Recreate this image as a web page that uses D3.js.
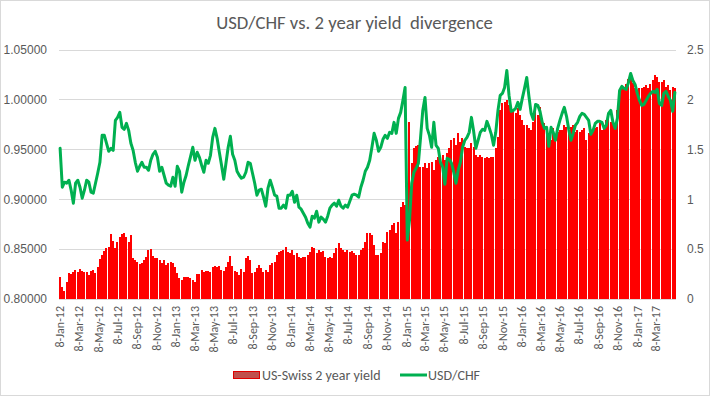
<!DOCTYPE html>
<html>
<head>
<meta charset="utf-8">
<script src="https://cdn.jsdelivr.net/npm/d3@7/dist/d3.min.js"></script>
<style>
  html, body { margin: 0; padding: 0; background: #fff; }
  svg { display: block; font-family: Carlito, Calibri, Lato, sans-serif; }
</style>
</head>
<body>
<div id="chart"></div>
<script>
// weekly observations, first week 8-Jan-12
var startDate = '2012-01-08';

var usdChf = [
  0.951, 0.912, 0.917, 0.916, 0.919, 0.909, 0.896, 0.916, 0.919, 0.912,
  0.901, 0.909, 0.919, 0.917, 0.907, 0.906, 0.916, 0.926, 0.937, 0.964,
  0.964, 0.956, 0.948, 0.951, 0.949, 0.979, 0.982, 0.987, 0.972, 0.970,
  0.976, 0.969, 0.956, 0.949, 0.937, 0.928, 0.933, 0.937, 0.932, 0.932,
  0.929, 0.939, 0.945, 0.948, 0.942, 0.928, 0.932, 0.924, 0.916, 0.914,
  0.913, 0.922, 0.913, 0.933, 0.928, 0.907, 0.917, 0.924, 0.934, 0.943,
  0.952, 0.939, 0.947, 0.942, 0.934, 0.927, 0.939, 0.936, 0.944, 0.962,
  0.971, 0.961, 0.947, 0.934, 0.920, 0.936, 0.952, 0.963, 0.945, 0.939,
  0.928, 0.924, 0.921, 0.922, 0.927, 0.937, 0.936, 0.926, 0.916, 0.904,
  0.909, 0.910, 0.902, 0.893, 0.911, 0.919, 0.912, 0.904, 0.903, 0.891,
  0.891, 0.894, 0.891, 0.904, 0.904, 0.908, 0.897, 0.904, 0.892, 0.890,
  0.886, 0.882, 0.876, 0.872, 0.883, 0.881, 0.888, 0.877, 0.882, 0.880,
  0.877, 0.883, 0.891, 0.894, 0.896, 0.893, 0.899, 0.893, 0.891, 0.894,
  0.892, 0.898, 0.904, 0.905, 0.904, 0.902, 0.912, 0.919, 0.928, 0.932,
  0.939, 0.952, 0.966, 0.959, 0.948, 0.952, 0.960, 0.964, 0.961, 0.967,
  0.966, 0.977, 0.966, 0.981, 0.987, 0.999, 1.012, 0.859, 0.879, 0.916,
  0.927, 0.931, 0.936, 0.962, 0.989, 1.002, 0.971, 0.964, 0.952, 0.977,
  0.954, 0.951, 0.937, 0.932, 0.915, 0.941, 0.940, 0.936, 0.927, 0.916,
  0.929, 0.937, 0.952, 0.959, 0.962, 0.967, 0.982, 0.968, 0.951, 0.959,
  0.967, 0.970, 0.969, 0.978, 0.972, 0.965, 0.954, 0.967, 0.989, 1.004,
  1.006, 1.012, 1.029, 1.004, 0.988, 0.989, 0.991, 0.997, 0.990, 1.001,
  1.011, 1.022, 1.003, 0.986, 0.980, 0.995, 0.994, 0.988, 0.977, 0.971,
  0.972, 0.953, 0.972, 0.967, 0.959, 0.971, 0.979, 0.986, 0.992, 0.983,
  0.970, 0.959, 0.966, 0.974, 0.977, 0.983, 0.986, 0.985, 0.982, 0.979,
  0.965, 0.969, 0.976, 0.978, 0.978, 0.977, 0.971, 0.974, 0.986, 0.989,
  0.977, 0.971, 0.981, 1.009, 1.013, 1.011, 1.010, 1.017, 1.026, 1.019,
  1.015, 1.006, 0.999, 0.994, 0.995, 0.999, 1.003, 1.006, 1.008, 1.007,
  1.010, 0.996, 0.994, 1.006, 1.008, 1.003, 0.999, 0.988, 1.007
];

var yieldSpread = [
  0.22, 0.12, 0.08, 0.17, 0.26, 0.25, 0.27, 0.29, 0.27, 0.30,
  0.28, 0.27, 0.27, 0.24, 0.28, 0.29, 0.26, 0.32, 0.40, 0.44,
  0.48, 0.51, 0.52, 0.65, 0.58, 0.51, 0.57, 0.62, 0.65, 0.66,
  0.62, 0.57, 0.64, 0.41, 0.39, 0.37, 0.35, 0.36, 0.39, 0.42,
  0.49, 0.50, 0.43, 0.41, 0.41, 0.39, 0.36, 0.39, 0.34, 0.36,
  0.37, 0.36, 0.32, 0.26, 0.21, 0.19, 0.22, 0.22, 0.22, 0.21,
  0.19, 0.17, 0.25, 0.25, 0.29, 0.27, 0.28, 0.28, 0.27, 0.32,
  0.33, 0.32, 0.33, 0.29, 0.28, 0.32, 0.37, 0.43, 0.33, 0.28,
  0.27, 0.24, 0.30, 0.27, 0.41, 0.43, 0.39, 0.26, 0.27, 0.31,
  0.34, 0.31, 0.27, 0.29, 0.27, 0.34, 0.36, 0.37, 0.44, 0.47,
  0.48, 0.49, 0.52, 0.47, 0.46, 0.49, 0.44, 0.46, 0.42, 0.41,
  0.42, 0.42, 0.44, 0.47, 0.52, 0.51, 0.46, 0.49, 0.47, 0.48,
  0.42, 0.41, 0.42, 0.41, 0.46, 0.51, 0.56, 0.51, 0.49, 0.47,
  0.49, 0.47, 0.48, 0.46, 0.44, 0.44, 0.49, 0.51, 0.57, 0.66,
  0.66, 0.64, 0.54, 0.44, 0.44, 0.46, 0.57, 0.56, 0.67, 0.69,
  0.74, 0.76, 0.66, 0.77, 0.92, 0.97, 0.94, 0.89, 1.77, 1.36,
  1.51, 1.53, 1.54, 1.32, 1.32, 1.36, 1.31, 1.36, 1.37, 1.29,
  1.39, 1.42, 1.40, 1.44, 1.39, 1.46, 1.51, 1.59, 1.61, 1.54,
  1.66, 1.57, 1.61, 1.52, 1.51, 1.51, 1.56, 1.52, 1.44, 1.42,
  1.44, 1.42, 1.41, 1.42, 1.41, 1.42, 1.42, 1.51, 1.62, 1.89,
  1.96, 1.97, 1.99, 1.94, 1.87, 1.89, 1.86, 1.91, 1.84, 1.79,
  1.74, 1.74, 1.71, 1.69, 1.77, 1.87, 1.84, 1.92, 1.81, 1.76,
  1.67, 1.59, 1.59, 1.71, 1.62, 1.67, 1.69, 1.69, 1.74, 1.72,
  1.69, 1.72, 1.74, 1.67, 1.69, 1.67, 1.69, 1.71, 1.59, 1.66,
  1.64, 1.67, 1.71, 1.72, 1.76, 1.69, 1.71, 1.79, 1.82, 1.77,
  1.76, 1.71, 1.89, 2.09, 2.12, 2.11, 2.15, 2.20, 2.22, 2.16,
  2.11, 2.09, 2.11, 2.11, 2.12, 2.14, 2.11, 2.15, 2.19, 2.24,
  2.22, 2.17, 2.17, 2.19, 2.12, 2.14, 2.09, 2.12, 2.11
];

var xTickLabels = [
  '8-Jan-12', '8-Mar-12', '8-May-12', '8-Jul-12', '8-Sep-12', '8-Nov-12',
  '8-Jan-13', '8-Mar-13', '8-May-13', '8-Jul-13', '8-Sep-13', '8-Nov-13',
  '8-Jan-14', '8-Mar-14', '8-May-14', '8-Jul-14', '8-Sep-14', '8-Nov-14',
  '8-Jan-15', '8-Mar-15', '8-May-15', '8-Jul-15', '8-Sep-15', '8-Nov-15',
  '8-Jan-16', '8-Mar-16', '8-May-16', '8-Jul-16', '8-Sep-16', '8-Nov-16',
  '8-Jan-17', '8-Mar-17'
];
var leftTicks = [0.80, 0.85, 0.90, 0.95, 1.00, 1.05];
var rightTicks = [0, 0.5, 1, 1.5, 2, 2.5];

var titleText = 'USD/CHF vs. 2 year yield  divergence';
var seriesNames = ['US-Swiss 2 year yield', 'USD/CHF'];

var width = 711,
  height = 397,
  plot = { left: 59, right: 676, top: 49.5, bottom: 299 },
  textColor = '#595959',
  gridColor = '#d9d9d9';

var parseTick = d3.timeParse('%d-%b-%y');
var week0 = d3.timeParse('%Y-%m-%d')(startDate);
var dates = usdChf.map(function(d, i) { return d3.timeDay.offset(week0, i * 7); });

var svg = d3.select('#chart').append('svg')
  .attr('width', width)
  .attr('height', height);

svg.append('rect')
  .attr('x', 0.5).attr('y', 0.5)
  .attr('width', width - 2).attr('height', height - 2)
  .attr('fill', '#fff')
  .attr('stroke', gridColor);

var x = d3.scaleTime()
  .domain([d3.timeHour.offset(dates[0], -84), d3.timeHour.offset(dates[dates.length - 1], 84)])
  .range([plot.left, plot.right]);

var yLeft = d3.scaleLinear().domain([0.80, 1.05]).range([plot.bottom, plot.top]);
var yRight = d3.scaleLinear().domain([0, 2.5]).range([plot.bottom, plot.top]);

// gridlines + left labels
var leftAxis = svg.append('g')
  .attr('transform', 'translate(' + plot.left + ',0)')
  .call(d3.axisLeft(yLeft)
    .tickValues(leftTicks)
    .tickSize(-(plot.right - plot.left))
    .tickPadding(12)
    .tickFormat(d3.format('.5f')));
leftAxis.select('.domain').remove();
leftAxis.selectAll('line').attr('stroke', gridColor).attr('shape-rendering', 'crispEdges');
leftAxis.selectAll('text').attr('fill', textColor).attr('font-size', 12).attr('font-family', null);

var rightAxis = svg.append('g')
  .attr('transform', 'translate(' + plot.right + ',0)')
  .call(d3.axisRight(yRight)
    .tickValues(rightTicks)
    .tickSize(0)
    .tickPadding(11)
    .tickFormat(function(d) { return String(d); }));
rightAxis.select('.domain').remove();
rightAxis.selectAll('text').attr('fill', textColor).attr('font-size', 12).attr('font-family', null);

// bars, snapped to whole pixels like the original rendering
var step = x(dates[1]) - x(dates[0]);
svg.append('g')
  .selectAll('rect')
  .data(yieldSpread)
  .join('rect')
  .attr('x', function(d, i) { return Math.round(x(dates[i]) - step / 2); })
  .attr('width', Math.floor(step))
  .attr('y', function(d) { return yRight(d); })
  .attr('height', function(d) { return yRight(0) - yRight(d); })
  .attr('fill', '#ff0000')
  .attr('shape-rendering', 'crispEdges');

var line = d3.line()
  .x(function(d, i) { return x(dates[i]); })
  .y(function(d) { return yLeft(d); });

svg.append('path')
  .datum(usdChf)
  .attr('d', line)
  .attr('fill', 'none')
  .attr('stroke', '#00b050')
  .attr('stroke-width', 3)
  .attr('stroke-linejoin', 'round')
  .attr('stroke-linecap', 'round');

// x labels
svg.append('g')
  .selectAll('text')
  .data(xTickLabels)
  .join('text')
  .attr('transform', function(d) { return 'translate(' + x(parseTick(d)) + ',306) rotate(-90)'; })
  .attr('text-anchor', 'end')
  .attr('dy', '0.35em')
  .attr('fill', textColor)
  .attr('font-size', 12)
  .text(function(d) { return d; });

svg.append('text')
  .attr('x', 354.5)
  .attr('y', 28.5)
  .attr('text-anchor', 'middle')
  .attr('fill', textColor)
  .attr('font-size', 18.7)
  .style('white-space', 'pre')
  .text(titleText);

// legend
var legend = svg.append('g');
legend.append('rect')
  .attr('x', 233.5).attr('y', 371.5)
  .attr('width', 26).attr('height', 7)
  .attr('fill', '#c0504d')
  .attr('stroke', '#e00000');
legend.append('text')
  .attr('x', 262).attr('y', 375)
  .attr('dy', '0.35em')
  .attr('fill', textColor)
  .attr('font-size', 14)
  .text(seriesNames[0]);
legend.append('line')
  .attr('x1', 400).attr('x2', 427)
  .attr('y1', 375).attr('y2', 375)
  .attr('stroke', '#00b050')
  .attr('stroke-width', 3);
legend.append('text')
  .attr('x', 428).attr('y', 375)
  .attr('dy', '0.35em')
  .attr('fill', textColor)
  .attr('font-size', 14)
  .text(seriesNames[1]);
</script>
</body>
</html>
